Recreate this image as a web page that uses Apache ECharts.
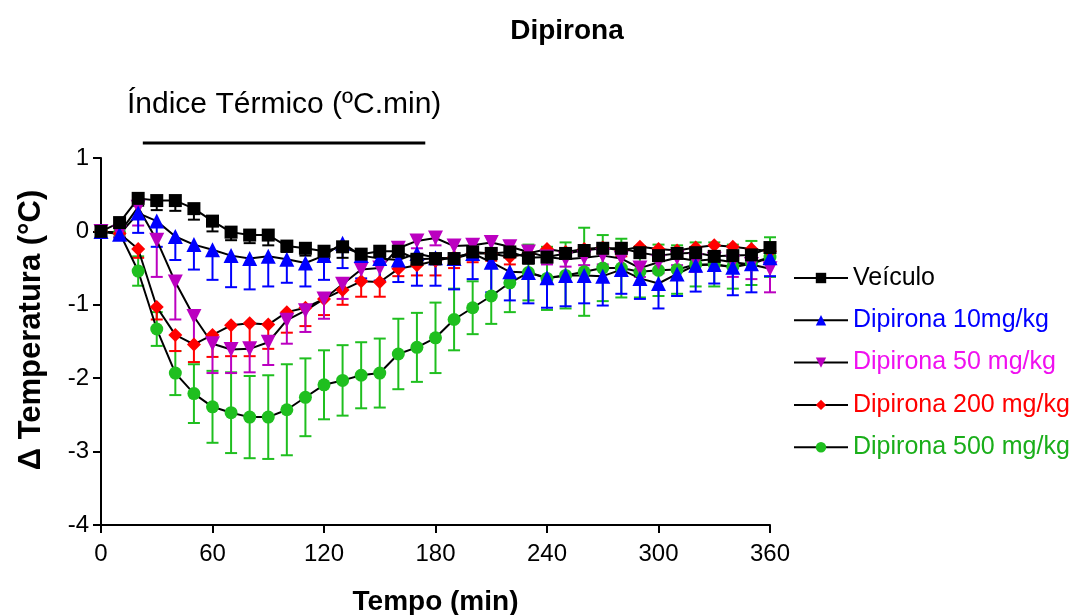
<!DOCTYPE html>
<html>
<head>
<meta charset="utf-8">
<script src="https://cdn.jsdelivr.net/npm/echarts@6/dist/echarts.min.js"></script>
<style>
  html, body { margin: 0; padding: 0; background: #fff; }
  #chart { width: 1075px; height: 615px; }
</style>
</head>
<body>
<div id="chart"></div>
<script>
// Time points (min)
const minutes = [0, 10, 20, 30, 40, 50, 60, 70, 80, 90, 100, 110, 120, 130, 140, 150, 160, 170, 180,
  190, 200, 210, 220, 230, 240, 250, 260, 270, 280, 290, 300, 310, 320, 330, 340, 350, 360];

const xTicks = [0, 60, 120, 180, 240, 300, 360];
const yTicks = [-4, -3, -2, -1, 0, 1];

// Mean change in temperature (°C)
const veiculo = [0, 0.12, 0.45, 0.42, 0.42, 0.31, 0.14, -0.01, -0.05, -0.05, -0.2, -0.23, -0.27, -0.21,
  -0.31, -0.27, -0.27, -0.38, -0.37, -0.37, -0.28, -0.3, -0.28, -0.36, -0.35, -0.3, -0.26, -0.23, -0.23,
  -0.29, -0.33, -0.3, -0.29, -0.34, -0.33, -0.32, -0.22];
const dip10 = [0, -0.04, 0.25, 0.14, -0.07, -0.18, -0.25, -0.33, -0.37, -0.34, -0.38, -0.43, -0.33, -0.16,
  -0.33, -0.37, -0.39, -0.3, -0.36, -0.37, -0.3, -0.42, -0.55, -0.56, -0.63, -0.6, -0.6, -0.61, -0.52,
  -0.64, -0.71, -0.58, -0.46, -0.45, -0.49, -0.44, -0.36];
const dip50 = [0, -0.02, 0.33, -0.12, -0.69, -1.16, -1.53, -1.61, -1.6, -1.51, -1.21, -1.08, -0.92, -0.72,
  -0.52, -0.5, -0.23, -0.13, -0.09, -0.2, -0.19, -0.15, -0.21, -0.28, -0.35, -0.38, -0.36, -0.33, -0.37,
  -0.5, -0.42, -0.36, -0.4, -0.38, -0.42, -0.45, -0.51];
const dip200 = [0, -0.03, -0.24, -1.03, -1.41, -1.54, -1.41, -1.28, -1.25, -1.27, -1.1, -1.04, -0.92, -0.8,
  -0.68, -0.69, -0.51, -0.46, -0.4, -0.35, -0.3, -0.3, -0.35, -0.3, -0.24, -0.28, -0.24, -0.22, -0.26,
  -0.21, -0.24, -0.26, -0.22, -0.19, -0.21, -0.24, -0.27];
const dip500 = [0, -0.02, -0.54, -1.33, -1.93, -2.21, -2.39, -2.47, -2.53, -2.53, -2.43, -2.26, -2.09, -2.03,
  -1.96, -1.93, -1.67, -1.58, -1.45, -1.2, -1.04, -0.88, -0.7, -0.56, -0.64, -0.6, -0.55, -0.5, -0.5,
  -0.55, -0.53, -0.52, -0.45, -0.45, -0.48, -0.43, -0.35];

// Standard error of the mean
const veiculoErr = [0, 0.05, 0.1, 0.13, 0.14, 0.15, 0.14, 0.11, 0.11, 0.14, 0.08, 0.1, 0.1, 0.15, 0.07, 0.08,
  0.08, 0.07, 0.08, 0.06, 0.07, 0.08, 0.06, 0.08, 0.07, 0.07, 0.07, 0.07, 0.08, 0.07, 0.07, 0.06, 0.06,
  0.07, 0.07, 0.06, 0.06];
const dip10Err = [0, 0.05, 0.27, 0.35, 0.32, 0.34, 0.41, 0.43, 0.42, 0.41, 0.32, 0.32, 0.33, 0.34, 0.31, 0.3,
  0.3, 0.44, 0.38, 0.42, 0.35, 0.41, 0.39, 0.42, 0.41, 0.42, 0.38, 0.4, 0.33, 0.28, 0.34, 0.3, 0.36, 0.26,
  0.38, 0.39, 0.25];
const dip50Err = [0, 0.05, 0.25, 0.5, 0.51, 0.35, 0.4, 0.32, 0.32, 0.31, 0.32, 0.29, 0.27, 0.2, 0.15, 0.18,
  0.12, 0.1, 0.1, 0.1, 0.1, 0.1, 0.12, 0.12, 0.1, 0.1, 0.1, 0.12, 0.15, 0.12, 0.15, 0.1, 0.15, 0.15, 0.2,
  0.2, 0.32];
const dip200Err = [0, 0.05, 0.12, 0.17, 0.22, 0.24, 0.3, 0.42, 0.45, 0.33, 0.28, 0.25, 0.22, 0.2, 0.21, 0.2,
  0.1, 0.14, 0.2, 0.15, 0.12, 0.1, 0.1, 0.1, 0.08, 0.08, 0.08, 0.08, 0.08, 0.08, 0.08, 0.08, 0.08, 0.08,
  0.08, 0.08, 0.08];
const dip500Err = [0, 0.06, 0.2, 0.23, 0.3, 0.4, 0.49, 0.55, 0.56, 0.57, 0.62, 0.53, 0.47, 0.48, 0.45, 0.47,
  0.48, 0.47, 0.48, 0.42, 0.36, 0.38, 0.4, 0.38, 0.43, 0.45, 0.6, 0.45, 0.4, 0.35, 0.35, 0.33, 0.3, 0.3,
  0.3, 0.3, 0.27];

const seriesNames = ['Veículo', 'Dipirona 10mg/kg', 'Dipirona 50 mg/kg', 'Dipirona 200 mg/kg', 'Dipirona 500 mg/kg'];

// Thermal index interval marked above the plot (min)
const indexStart = 22.5;
const indexEnd = 174.5;

const FONT = '"Liberation Sans", Arial, Helvetica, sans-serif';

const groups = [
  // drawn bottom to top
  { name: seriesNames[4], mean: dip500, down: dip500Err, up: dip500Err, color: '#1fbf1f', text: '#1aae1a', symbol: 'circle', size: 13, rotate: 0 },
  { name: seriesNames[3], mean: dip200, down: dip200Err, up: null, color: '#ff0000', text: '#ff0000', symbol: 'diamond', size: 14, rotate: 0 },
  { name: seriesNames[2], mean: dip50, down: dip50Err, up: null, color: '#bb00c0', text: '#f010f0', symbol: 'triangle', size: 15, rotate: 180 },
  { name: seriesNames[1], mean: dip10, down: dip10Err, up: null, color: '#0000ff', text: '#0000ff', symbol: 'triangle', size: 15, rotate: 0 },
  { name: seriesNames[0], mean: veiculo, down: veiculoErr, up: null, color: '#000000', text: '#000000', symbol: 'rect', size: 13, rotate: 0 }
];

function errorBarSeries(g) {
  const data = minutes.map((t, i) => [
    t, g.mean[i], g.mean[i] - g.down[i], g.mean[i] + (g.up ? g.up[i] : 0)
  ]);
  return {
    type: 'custom',
    name: g.name + ' (EPM)',
    silent: true,
    data: data,
    encode: { x: 0, y: [2, 3] },
    renderItem: function (params, api) {
      const x = api.value(0);
      const mid = api.value(1);
      const lo = api.value(2);
      const hi = api.value(3);
      const pLo = api.coord([x, lo]);
      const pHi = api.coord([x, hi]);
      if (Math.abs(pLo[1] - pHi[1]) < 1) return null;
      const half = 6;
      const style = { stroke: g.color, lineWidth: 2 };
      const children = [
        { type: 'line', shape: { x1: pHi[0], y1: pHi[1], x2: pLo[0], y2: pLo[1] }, style: style }
      ];
      if (lo < mid) {
        children.push({ type: 'line', shape: { x1: pLo[0] - half, y1: pLo[1], x2: pLo[0] + half, y2: pLo[1] }, style: style });
      }
      if (hi > mid) {
        children.push({ type: 'line', shape: { x1: pHi[0] - half, y1: pHi[1], x2: pHi[0] + half, y2: pHi[1] }, style: style });
      }
      return { type: 'group', children: children };
    }
  };
}

function lineSeries(g) {
  return {
    type: 'line',
    name: g.name,
    data: minutes.map((t, i) => [t, g.mean[i]]),
    symbol: g.symbol,
    symbolSize: g.size,
    symbolRotate: g.rotate,
    showAllSymbol: true,
    lineStyle: { color: '#000', width: 2 },
    itemStyle: { color: g.color, borderWidth: 0 },
    emphasis: { disabled: true },
    animation: false
  };
}

const series = [];
groups.forEach(g => {
  series.push(errorBarSeries(g));
  series.push(lineSeries(g));
});

const legendData = seriesNames.map(n => {
  const g = groups.find(x => x.name === n);
  return { name: n, textStyle: { color: g.text } };
});

const chart = echarts.init(document.getElementById('chart'), null, { renderer: 'canvas' });

chart.setOption({
  animation: false,
  backgroundColor: '#ffffff',
  title: {
    text: 'Dipirona',
    left: 562,
    top: 12,
    textAlign: 'center',
    textStyle: { fontFamily: FONT, fontSize: 28, fontWeight: 'bold', color: '#000' }
  },
  grid: { left: 101, right: 305, top: 158, bottom: 90, containLabel: false, outerBoundsMode: 'none' },
  legend: {
    orient: 'vertical',
    left: 788,
    top: 259,
    itemWidth: 54,
    itemHeight: 13,
    itemGap: 14.3,
    selectedMode: false,
    textStyle: { fontFamily: FONT, fontSize: 25, lineHeight: 28 },
    data: legendData
  },
  xAxis: {
    type: 'value',
    min: xTicks[0],
    max: xTicks[xTicks.length - 1],
    interval: 60,
    name: 'Tempo (min)',
    nameLocation: 'middle',
    nameGap: 63,
    nameTextStyle: { fontFamily: FONT, fontSize: 28, fontWeight: 'bold', color: '#000' },
    axisLine: { onZero: false, lineStyle: { color: '#000', width: 2 } },
    axisTick: { length: 8, lineStyle: { color: '#000', width: 2 } },
    axisLabel: { fontFamily: FONT, fontSize: 24, color: '#000', margin: 17 },
    splitLine: { show: false }
  },
  yAxis: {
    type: 'value',
    min: yTicks[0],
    max: yTicks[yTicks.length - 1],
    interval: 1,
    axisLine: { onZero: false, lineStyle: { color: '#000', width: 2 } },
    axisTick: { length: 8, lineStyle: { color: '#000', width: 2 } },
    axisLabel: { fontFamily: FONT, fontSize: 24, color: '#000', margin: 12 },
    splitLine: { show: false }
  },
  series: series
});

// Axis title and the thermal-index bracket
const p0 = chart.convertToPixel({ gridIndex: 0 }, [indexStart, 0]);
const p1 = chart.convertToPixel({ gridIndex: 0 }, [indexEnd, 0]);
chart.setOption({
  graphic: [
    {
      type: 'text',
      x: 31, y: 330,
      rotation: Math.PI / 2,
      style: {
        text: 'Δ Temperatura (°C)',
        fontFamily: FONT, fontSize: 31, fontWeight: 'bold', fill: '#000',
        align: 'center', verticalAlign: 'middle'
      }
    },
    {
      type: 'text',
      x: 127, y: 105,
      style: {
        text: 'Índice Térmico (ºC.min)',
        fontFamily: FONT, fontSize: 30, fill: '#000',
        align: 'left', verticalAlign: 'middle'
      }
    },
    {
      type: 'line',
      shape: { x1: p0[0], y1: 143, x2: p1[0], y2: 143 },
      style: { stroke: '#000', lineWidth: 3 }
    }
  ]
});
</script>
</body>
</html>
